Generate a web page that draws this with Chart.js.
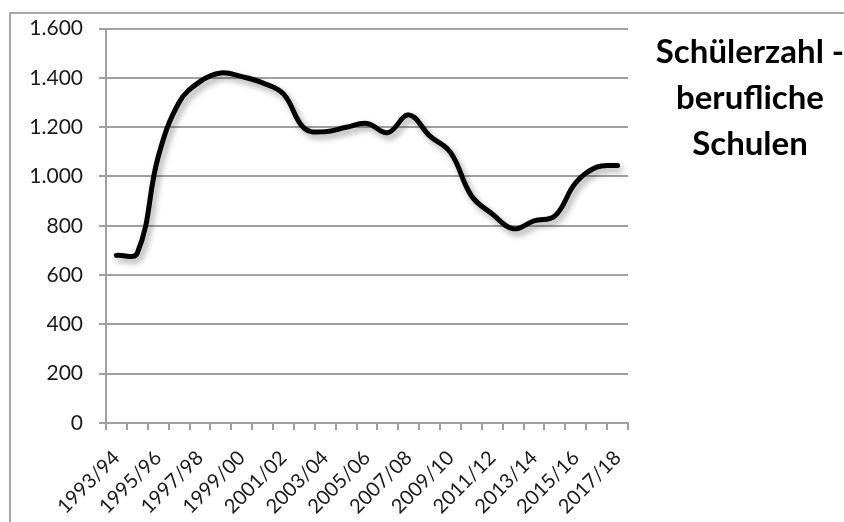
<!DOCTYPE html>
<html>
<head>
<meta charset="utf-8">
<script src="https://cdn.jsdelivr.net/npm/chart.js@4"></script>
<style>
  html, body { margin: 0; padding: 0; background: #fff; overflow: hidden; }
  #wrap { position: relative; width: 844px; height: 522px; }
  #frame { position: absolute; left: 9px; top: 12px; width: 900px; height: 600px; border: 2px solid #a6a6a6; box-sizing: border-box; }
  #title { position: absolute; left: 640px; top: 27px; width: 220px; text-align: center;
           font: bold 33px Lato, "Open Sans", sans-serif; line-height: 46px; color: #000; white-space: nowrap; }
  canvas { position: absolute; left: 0; top: 0; }
</style>
</head>
<body>
<div id="wrap">
  <div id="frame"></div>
  <canvas id="chart" width="844" height="522"></canvas>
  <div id="title">Schülerzahl -<br>berufliche<br>Schulen</div>
</div>
<script>
// ===== Schülerzahl berufliche Schulen =====
const schoolYears = ['1993/94','1994/95','1995/96','1996/97','1997/98','1998/99','1999/00','2000/01',
  '2001/02','2002/03','2003/04','2004/05','2005/06','2006/07','2007/08','2008/09','2009/10',
  '2010/11','2011/12','2012/13','2013/14','2014/15','2015/16','2016/17','2017/18'];
const pupils = [680, 690, 1080, 1300, 1385, 1420, 1405, 1380, 1335, 1195, 1182, 1200, 1215, 1178,
  1250, 1165, 1098, 922, 848, 788, 820, 840, 975, 1038, 1045];
const yTicks = [0, 200, 400, 600, 800, 1000, 1200, 1400, 1600];

const gridGray = '#a0a0a0';
const fmt = v => v.toString().replace(/\B(?=(\d{3})+(?!\d))/g, '.');

const shadowPlugin = {
  id: 'lineShadow',
  beforeDatasetsDraw(chart) {
    const c = chart.ctx;
    c.save();
    c.shadowColor = 'rgba(0,0,0,0.35)';
    c.shadowBlur = 6;
    c.shadowOffsetX = 3;
    c.shadowOffsetY = 4;
  },
  afterDatasetsDraw(chart) { chart.ctx.restore(); }
};

new Chart(document.getElementById('chart'), {
  type: 'line',
  data: {
    labels: schoolYears,
    datasets: [{
      data: pupils,
      borderColor: '#000',
      borderWidth: 5,
      borderCapStyle: 'round',
      borderJoinStyle: 'round',
      tension: 0.4,
      pointRadius: 0,
      fill: false
    }]
  },
  options: {
    responsive: false,
    animation: false,
    events: [],
    layout: { padding: { left: 0, right: 216, top: 27, bottom: 0 } },
    plugins: { legend: { display: false }, tooltip: { enabled: false }, title: { display: false } },
    scales: {
      x: {
        offset: true,
        afterFit: s => { s.height = 99; },
        border: { color: gridGray, width: 2 },
        grid: { offset: true, drawOnChartArea: false, drawTicks: true, tickLength: 7, color: gridGray, lineWidth: 2 },
        ticks: {
          autoSkip: false, maxRotation: 45, minRotation: 45, padding: 16,
          color: '#1a1a1a', font: { family: 'Lato', size: 20 },
          callback: function(v, i) { return i % 2 === 0 ? schoolYears[i] : ''; }
        }
      },
      y: {
        min: 0, max: 1600,
        afterFit: s => { s.width = 106; },
        afterBuildTicks: s => { s.ticks = yTicks.map(v => ({ value: v })); },
        border: { color: gridGray, width: 2 },
        grid: { color: gridGray, lineWidth: 2, tickLength: 7 },
        ticks: { padding: 16, color: '#1a1a1a', font: { family: 'Lato', size: 21 }, callback: v => fmt(v) }
      }
    }
  },
  plugins: [shadowPlugin]
});
</script>
</body>
</html>
